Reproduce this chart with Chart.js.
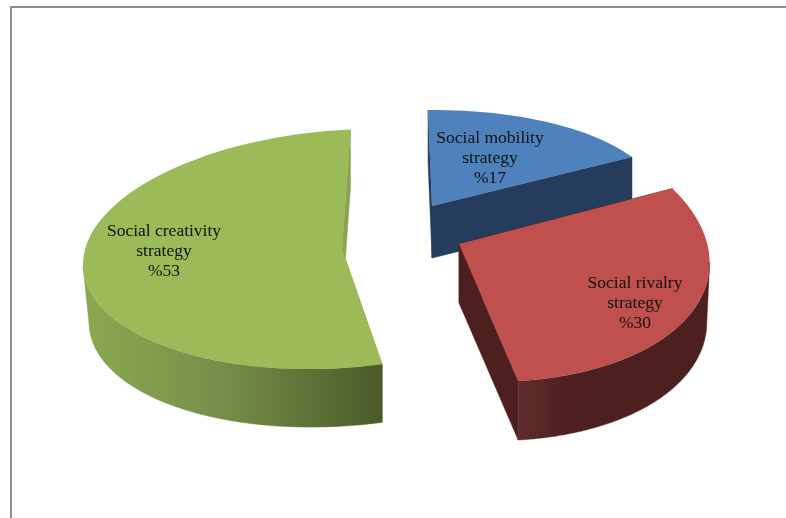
<!DOCTYPE html>
<html>
<head>
<meta charset="utf-8">
<style>
html,body{margin:0;padding:0;background:#fff;overflow:hidden}
#frame{position:absolute;left:10px;top:6px;width:776px;height:512px;border-left:2px solid #8e8e8e;border-top:2px solid #8e8e8e;box-sizing:border-box}
canvas{position:absolute;left:0;top:0}
</style>
<script src="https://cdn.jsdelivr.net/npm/chart.js@4"></script>
</head>
<body>
<div id="frame"></div>
<canvas id="c" width="786" height="518"></canvas>
<script>
// ---- data ----
const categories = ["Social mobility strategy", "Social rivalry strategy", "Social creativity strategy"];
const values = [17, 30, 53];
const labelLines = [["Social mobility", "strategy"], ["Social rivalry", "strategy"], ["Social creativity", "strategy"]];
const topColors = ["#4F81BD", "#C0504D", "#9BBB59"];

// ---- 3D look: how each slice is projected onto the page ----
const projections = [
  { apex: [432, 206], m: [230.3, -8.1, 1.9, 96.0], depth: 52, baseScale: 1, cut: "#253C5C", wall: [[0, "#253C5C"], [1, "#253C5C"]] },
  { apex: [459, 244], m: [250.7, -0.6, 19.2, 136.4], depth: 59, baseScale: 0.985, cut: "#4E1F1F", wall: [[0, "#5E2C2B"], [0.1, "#5A2927"], [0.25, "#4E1F1F"], [1, "#4E1F1F"]] },
  { apex: [342, 249], m: [258, -22, -5, 120], depth: 58, baseScale: 0.98, cut: "#8AA34E", wall: [[0, "#8BA84F"], [0.45, "#76904A"], [1, "#4A5A28"]] }
];
const labelSpots = [[490, 138], [635, 283], [164, 231]];
const lineGap = 20;

function project(p, t) {
  const c = Math.cos(t), s = Math.sin(t);
  return [p.apex[0] + p.m[0] * c + p.m[1] * s, p.apex[1] + p.m[2] * c + p.m[3] * s];
}
function poly(ctx, pts) {
  ctx.beginPath();
  pts.forEach((q, i) => i ? ctx.lineTo(q[0], q[1]) : ctx.moveTo(q[0], q[1]));
  ctx.closePath();
}
function drawWalls(ctx, arc, p) {
  const { startAngle: a0, endAngle: a1 } = arc.getProps(["startAngle", "endAngle"], true);
  const h = p.depth, n = 240;
  const rim = [];
  for (let i = 0; i <= n; i++) rim.push(project(p, a0 + (a1 - a0) * i / n));
  const first = rim[0], last = rim[n];
  ctx.fillStyle = p.cut; ctx.strokeStyle = p.cut; ctx.lineWidth = 0.5;
  [first, last].forEach(e => {
    poly(ctx, [p.apex, e, [e[0], e[1] + h], [p.apex[0], p.apex[1] + h]]);
    ctx.fill(); ctx.stroke();
  });
  // only the part of the rim that faces the viewer has an outer wall
  const front = rim.filter((q, i) => i === n ? rim[n - 1][0] > q[0] : rim[i + 1][0] < q[0]);
  if (front.length < 2) return;
  const xs = front.map(q => q[0]);
  const x0 = Math.min(...xs), x1 = Math.max(...xs);
  // the wall's base narrows towards the far side; the end that meets a cut face stays put
  const lastNearCut = Math.abs(xs[xs.length - 1] - last[0]) < 2;
  const pivot = lastNearCut ? xs[xs.length - 1] : xs[0];
  const g = ctx.createLinearGradient(x0, 0, x1, 0);
  p.wall.forEach(st => g.addColorStop(st[0], st[1]));
  const base = front.slice().reverse().map(q => [pivot + (q[0] - pivot) * p.baseScale, q[1] + h]);
  poly(ctx, front.concat(base));
  ctx.fillStyle = g; ctx.strokeStyle = g; ctx.lineWidth = 0.5;
  ctx.fill(); ctx.stroke();
}
const pie3d = {
  id: "pie3d",
  beforeDatasetDraw(chart, args) {
    const ctx = chart.ctx;
    args.meta.data.forEach((arc, i) => {
      const p = projections[i];
      drawWalls(ctx, arc, p);
      const { x, y, outerRadius: R } = arc.getProps(["x", "y", "outerRadius"], true);
      ctx.save();
      ctx.translate(p.apex[0], p.apex[1]);
      ctx.transform(p.m[0] / R, p.m[2] / R, p.m[1] / R, p.m[3] / R, 0, 0);
      ctx.translate(-x, -y);
      arc.draw(ctx);
      ctx.restore();
    });
    return false;
  },
  afterDatasetsDraw(chart) {
    const ctx = chart.ctx;
    ctx.save();
    ctx.font = '17.5px "Liberation Serif"';
    ctx.fillStyle = "#111";
    ctx.textAlign = "center";
    ctx.textBaseline = "middle";
    labelLines.forEach((lines, i) => {
      const rows = lines.concat(["%" + values[i]]);
      rows.forEach((t, r) => ctx.fillText(t, labelSpots[i][0], labelSpots[i][1] + r * lineGap));
    });
    ctx.restore();
  }
};
new Chart(document.getElementById("c"), {
  type: "pie",
  data: { labels: categories, datasets: [{ data: values, backgroundColor: topColors, borderWidth: 0 }] },
  options: {
    responsive: false,
    animation: false,
    rotation: -3,
    plugins: { legend: { display: false }, tooltip: { enabled: false } }
  },
  plugins: [pie3d]
});
</script>
</body>
</html>
